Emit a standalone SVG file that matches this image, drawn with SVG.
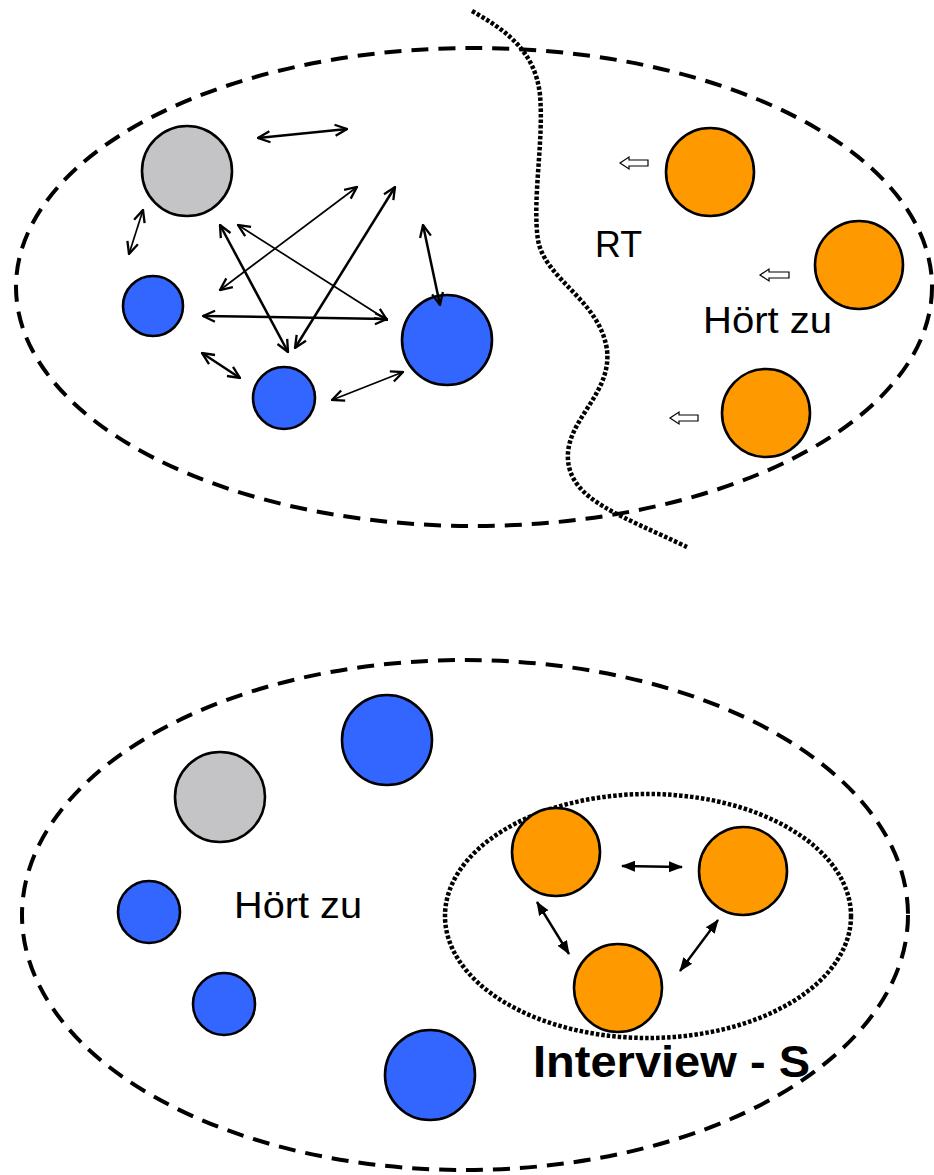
<svg xmlns="http://www.w3.org/2000/svg" width="934" height="1175" viewBox="0 0 934 1175">
<style>
.dash{fill:none;stroke:#000;stroke-width:4;stroke-dasharray:17 10}
.dot{fill:none;stroke:#000;stroke-width:4.5;stroke-dasharray:3.5 2}
.n{stroke:#000;stroke-width:2.6}
.gray{fill:#c4c3c6}
.blue{fill:#3366ff}
.orange{fill:#ff9900}
.a{fill:none;stroke:#000;stroke-width:2.5;marker-start:url(#ah);marker-end:url(#ah)}
.at{fill:none;stroke:#000;stroke-width:1.7;marker-start:url(#ah);marker-end:url(#ah)}
.b{fill:none;stroke:#000;stroke-width:2.4;marker-start:url(#bh);marker-end:url(#bh)}
.h{fill:#fff;stroke:#000;stroke-width:1.2}
.t{font-family:"Liberation Sans",Arial,sans-serif;fill:#000}
</style>
<defs>
<marker id="ah" viewBox="0 0 14 14" refX="13" refY="7" markerWidth="14" markerHeight="14" markerUnits="userSpaceOnUse" orient="auto-start-reverse">
<path d="M1,1.5 L13,7 L1,12.5" fill="none" stroke="#000" stroke-width="2.3"/>
</marker>
<marker id="bh" viewBox="0 0 14 14" refX="13" refY="7" markerWidth="14" markerHeight="14" markerUnits="userSpaceOnUse" orient="auto-start-reverse">
<path d="M0,1.5 L14,7 L0,12.5 Z" fill="#000"/>
</marker>
</defs>
<rect width="934" height="1175" fill="#fff"/>

<g id="top-group">
<ellipse class="dash" cx="474" cy="287" rx="458" ry="239"/>
<path class="dot" d="M472,11 C505,30 535,50 540,95 C544,140 532,200 538,240 C545,280 600,300 607,350 C612,395 565,420 568,460 C571,500 620,515 687,547"/>
</g>

<g id="t-gray"><circle class="n gray" cx="187" cy="171" r="45"/></g>
<g id="t-blue1"><circle class="n blue" cx="153" cy="306" r="30"/></g>
<g id="t-blue2"><circle class="n blue" cx="284" cy="398" r="31"/></g>
<g id="t-blue3"><circle class="n blue" cx="447" cy="340" r="45"/></g>
<g id="t-orange1"><circle class="n orange" cx="710" cy="172" r="44"/></g>
<g id="t-orange2"><circle class="n orange" cx="859" cy="265" r="44"/></g>
<g id="t-orange3"><circle class="n orange" cx="766" cy="413" r="44"/></g>

<g id="connectors-top">
<line class="a" x1="258" y1="138" x2="347" y2="129"/>
<line class="at" x1="143" y1="210" x2="129" y2="254"/>
<line class="a" x1="220" y1="225" x2="288" y2="352"/>
<line class="at" x1="238" y1="225" x2="387" y2="320"/>
<line class="at" x1="357" y1="187" x2="220" y2="290"/>
<line class="a" x1="395" y1="187" x2="295" y2="348"/>
<line class="a" x1="203" y1="316" x2="387" y2="319"/>
<line class="a" x1="423" y1="225" x2="440" y2="305"/>
<line class="a" x1="202" y1="353" x2="240" y2="378"/>
<line class="at" x1="332" y1="400" x2="403" y2="372"/>
<polygon class="h" points="620,163 629,157 629,160 648,160 648,166 629,166 629,169"/>
<polygon class="h" points="760,275 769,269 769,272 789,272 789,278 769,278 769,281"/>
<polygon class="h" points="670,418 679,412 679,415 698,415 698,421 679,421 679,424"/>
</g>

<g id="t-labels">
<text class="t" x="595" y="257" font-size="36" textLength="47" lengthAdjust="spacingAndGlyphs">RT</text>
<text class="t" x="703" y="333" font-size="37" textLength="129" lengthAdjust="spacingAndGlyphs">Hört zu</text>
</g>

<g id="bottom-group">
<ellipse class="dash" cx="465" cy="915" rx="443" ry="255"/>
<ellipse class="dot" cx="648" cy="916" rx="203" ry="122"/>
</g>

<g id="b-gray"><circle class="n gray" cx="220" cy="797" r="45"/></g>
<g id="b-blue1"><circle class="n blue" cx="387" cy="740" r="45"/></g>
<g id="b-blue2"><circle class="n blue" cx="149" cy="912" r="31"/></g>
<g id="b-blue3"><circle class="n blue" cx="224" cy="1004" r="31"/></g>
<g id="b-blue4"><circle class="n blue" cx="430" cy="1075" r="45"/></g>
<g id="b-orange1"><circle class="n orange" cx="556" cy="852" r="44"/></g>
<g id="b-orange2"><circle class="n orange" cx="743" cy="871" r="44"/></g>
<g id="b-orange3"><circle class="n orange" cx="618" cy="988" r="44"/></g>

<g id="connectors-bottom">
<line class="b" x1="622" y1="866" x2="682" y2="867"/>
<line class="b" x1="537" y1="902" x2="569" y2="954"/>
<line class="b" x1="718" y1="920" x2="680" y2="971"/>
</g>

<g id="b-labels">
<text class="t" x="234" y="918" font-size="36" textLength="128" lengthAdjust="spacingAndGlyphs">Hört zu</text>
<text class="t" x="533" y="1077" font-size="44" font-weight="bold" textLength="277" lengthAdjust="spacingAndGlyphs">Interview - S</text>
</g>
</svg>
